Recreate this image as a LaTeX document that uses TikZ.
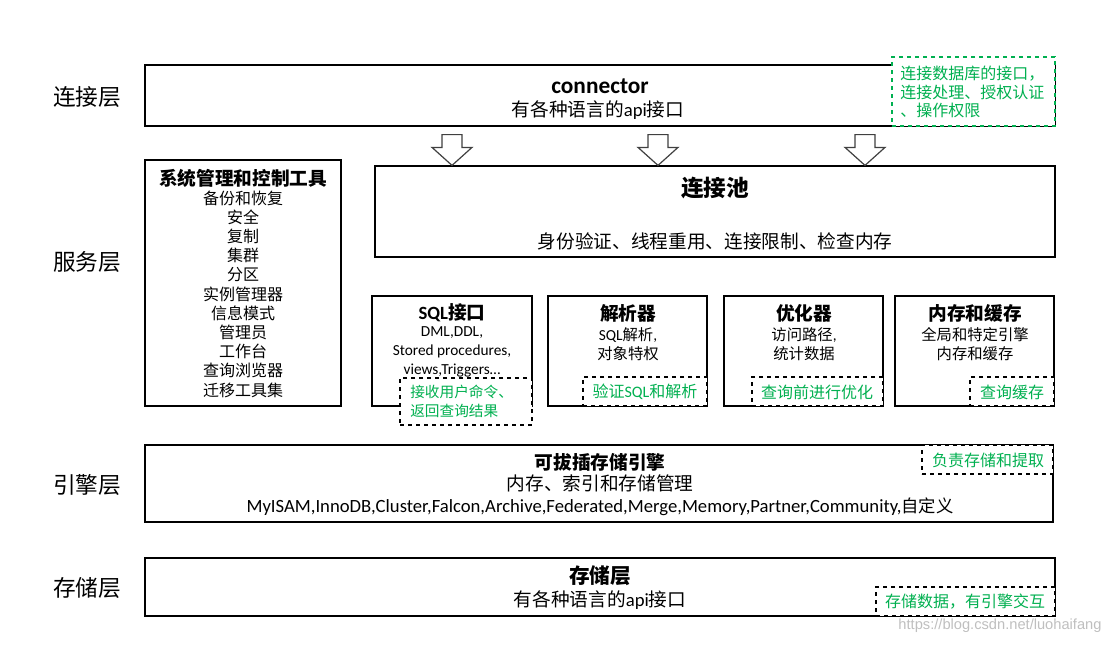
\documentclass[tikz,border=0pt]{standalone}
\usepackage{fontspec}
\setmainfont{Noto Sans CJK SC}
\newfontfamily\lat{Carlito}
\newfontfamily\wmfont{Liberation Sans}
\usetikzlibrary{fit,calc}
\definecolor{notegreen}{HTML}{00B050}
\definecolor{arrowgray}{HTML}{404040}
\newcommand{\fs}[2]{\fontsize{#1}{#2}\selectfont}
\tikzset{
  x=0.75pt, y=-0.75pt,
  box/.style={draw=black, line width=0.9pt, inner sep=0pt, fill=white},
  note/.style={draw=black, dashed, line width=0.8pt, inner sep=0pt, fill=white},
  gnote/.style={draw=notegreen, dashed, line width=0.8pt, inner sep=0pt, fill=white},
  txt/.style={inner sep=0pt, align=center},
  gtxt/.style={inner sep=0pt, text=notegreen},
  subtitle/.style={txt, font={\fs{14}{16}\bfseries}},
  layer/.style={inner sep=0pt, font=\fs{17}{20}},
  hollow/.style={draw=arrowgray, line width=0.9pt, fill=white, line join=miter}
}
\begin{document}
\begin{tikzpicture}
\useasboundingbox (0,0) rectangle (1117,644);

% layer labels
\node[layer] (L1) at (87,97) {连接层};
\node[layer] (L2) at (87,262) {服务层};
\node[layer] (L3) at (87,485) {引擎层};
\node[layer] (L4) at (87,588) {存储层};

% connector layer
\node[box, fit={(145,65)(1055,126)}] (conn) {};
\node[txt, font={\fs{17.5}{20}\lat\bfseries}] (connT) at (600,86) {connector};
\node[txt, font={\fs{14}{17}}] (connS) at (598,110) {有各种语言的{\lat api}接口};
\node[gnote, fit={(892,57)(1055,126)}] (connN) {};
\node[gtxt, anchor=west, align=left, font={\fs{12}{13.9}}] (connNT) at (900,92) {连接数据库的接口，\\连接处理、授权认证\\、操作权限};

% connection pool
\node[box, fit={(375,166)(1055,257)}] (pool) {};
\node[txt, font={\fs{17}{20}\bfseries}] (poolT) at (715,188) {连接池};
\node[txt, font={\fs{14}{17}}] (poolS) at (715,241) {身份验证、线程重用、连接限制、检查内存};

% hollow arrows connector -> pool
\foreach \x in {452,658,865}{
  \draw[hollow] ($(conn.south -| \x,0)+(-10,8)$) -- ($(pool.north -| \x,0)+(-10,-18)$)
     -- ($(pool.north -| \x,0)+(-20,-18)$) -- (pool.north -| \x,0)
     -- ($(pool.north -| \x,0)+(20,-18)$) -- ($(pool.north -| \x,0)+(10,-18)$)
     -- ($(conn.south -| \x,0)+(10,8)$) -- cycle;
}

% management tools
\node[box, fit={(145,160)(341,406)}] (mgmt) {};
\node[txt, font={\fs{14}{17}\bfseries}] (mgmtT) at (243,178) {系统管理和控制工具};
\node[txt, font={\fs{12}{14.4}}] (mgmtL) at (243,294) {备份和恢复\\安全\\复制\\集群\\分区\\实例管理器\\信息模式\\管理员\\工作台\\查询浏览器\\迁移工具集};

% SQL interface
\node[box, fit={(372,296)(532,406)}] (sql) {};
\node[subtitle] (sqlT) at (452,313) {{\lat\bfseries SQL}接口};
\node[txt, font={\fs{11.5}{14.3}\lat}] (sqlL) at (452,352) {DML,DDL,\\Stored procedures,\\views,Triggers…};
\node[note, fit={(400,378)(532,425)}] (sqlN) {};
\node[gtxt, anchor=west, align=left, font={\fs{11}{14.3}}] (sqlNT) at (410,401) {接收用户命令、\\返回查询结果};

% parser
\node[box, fit={(548,296)(707,406)}] (parse) {};
\node[subtitle] (parseT) at (628,313) {解析器};
\node[txt, font={\fs{11.5}{14.3}}] (parseL) at (628,344) {{\lat SQL}解析{\lat ,}\\对象特权};
\node[note, fit={(583,377)(707,406)}] (parseN) {};
\node[gtxt, font={\fs{12}{14}}] (parseNT) at (645,392) {验证{\lat SQL}和解析};

% optimizer
\node[box, fit={(724,296)(883,406)}] (opt) {};
\node[subtitle] (optT) at (804,313) {优化器};
\node[txt, font={\fs{11.5}{14.3}}] (optL) at (804,344) {访问路径{\lat ,}\\统计数据};
\node[note, fit={(752,377)(883,406)}] (optN) {};
\node[gtxt, font={\fs{12}{14}}] (optNT) at (817,392) {查询前进行优化};

% cache
\node[box, fit={(895,296)(1054,406)}] (cache) {};
\node[subtitle] (cacheT) at (975,313) {内存和缓存};
\node[txt, font={\fs{11.5}{14.3}}] (cacheL) at (975,344) {全局和特定引擎\\内存和缓存};
\node[note, fit={(970,377)(1054,406)}] (cacheN) {};
\node[gtxt, font={\fs{12}{14}}] (cacheNT) at (1012,392) {查询缓存};

% engine layer
\node[box, fit={(145,445)(1053,522)}] (eng) {};
\node[txt, font={\fs{14}{17}\bfseries}] (engT) at (600,462) {可拔插存储引擎};
\node[txt, font={\fs{14}{17}}] (engS) at (600,483) {内存、索引和存储管理};
\node[txt, font={\fs{13}{15}}] (engL) at (600,507) {{\fs{14}{15}\lat MyISAM,InnoDB,Cluster,Falcon,Archive,Federated,Merge,Memory,Partner,Community,}自定义};
\node[note, fit={(922,445)(1053,474)}] (engN) {};
\node[gtxt, font={\fs{12}{14}}] (engNT) at (988,460) {负责存储和提取};

% storage layer
\node[box, fit={(145,558)(1055,616)}] (stor) {};
\node[txt, font={\fs{15.5}{18}\bfseries}] (storT) at (600,576) {存储层};
\node[txt, font={\fs{14}{17}}] (storS) at (600,600) {有各种语言的{\lat api}接口};
\node[note, fit={(876,587)(1055,616)}] (storN) {};
\node[gtxt, font={\fs{12}{14}}] (storNT) at (965,602) {存储数据，有引擎交互};

% watermark
\node[inner sep=0pt, text=black!25, font={\fs{11}{13}\wmfont}] (wm) at (1000,626) {https://blog.csdn.net/luohaifang};
\end{tikzpicture}
\end{document}
